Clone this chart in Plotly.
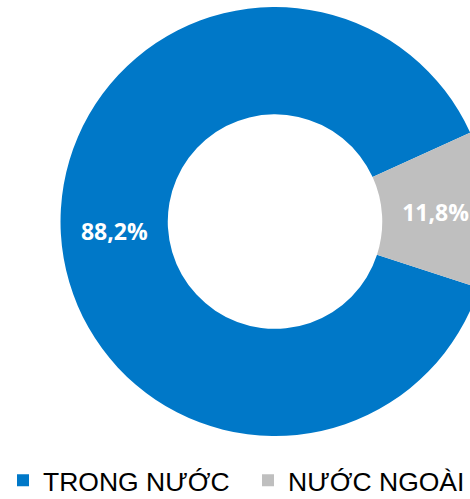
import plotly.graph_objects as go

labels = ["TRONG NƯỚC", "NƯỚC NGOÀI"]
values = [88.2, 11.8]
colors = ["#0078C8", "#BFBFBF"]

fig = go.Figure(
    go.Pie(
        labels=labels,
        values=values,
        hole=0.5,
        sort=False,
        direction="clockwise",
        rotation=108,
        marker=dict(colors=colors, line=dict(width=0)),
        texttemplate="%{percent:.1%}",
        textposition="inside",
        insidetextorientation="horizontal",
        textfont=dict(family="Open Sans", size=23, color="white", weight="bold"),
        hoverinfo="label+percent",
        # the ring runs past the right edge in the original: figure is 490 wide, cropped to 470
        domain=dict(x=[0.1235, 0.999], y=[0.126, 0.986]),
    )
)

fig.update_layout(
    width=490,
    height=499,
    margin=dict(l=0, r=0, t=0, b=0, autoexpand=False),
    separators=",.",
    uniformtext=dict(minsize=23, mode="show"),
    paper_bgcolor="white",
    showlegend=True,
    legend=dict(
        orientation="h",
        x=3 / 490,
        xanchor="left",
        y=0.037,
        yanchor="middle",
        entrywidth=200,
        font=dict(family="Liberation Sans, Arial", size=26.5, color="black"),
        itemclick=False,
    ),
)

crop = (
    "document.body.style.margin='0';"
    "document.body.style.overflow='hidden';"
    "var g=document.querySelector('.plotly-graph-div');"
    "g.parentElement.style.width='470px';"
    "g.parentElement.style.height='499px';"
    "g.parentElement.style.overflow='hidden';"
)

fig.write_html("out.html", config={"displayModeBar": False}, post_script=crop)
